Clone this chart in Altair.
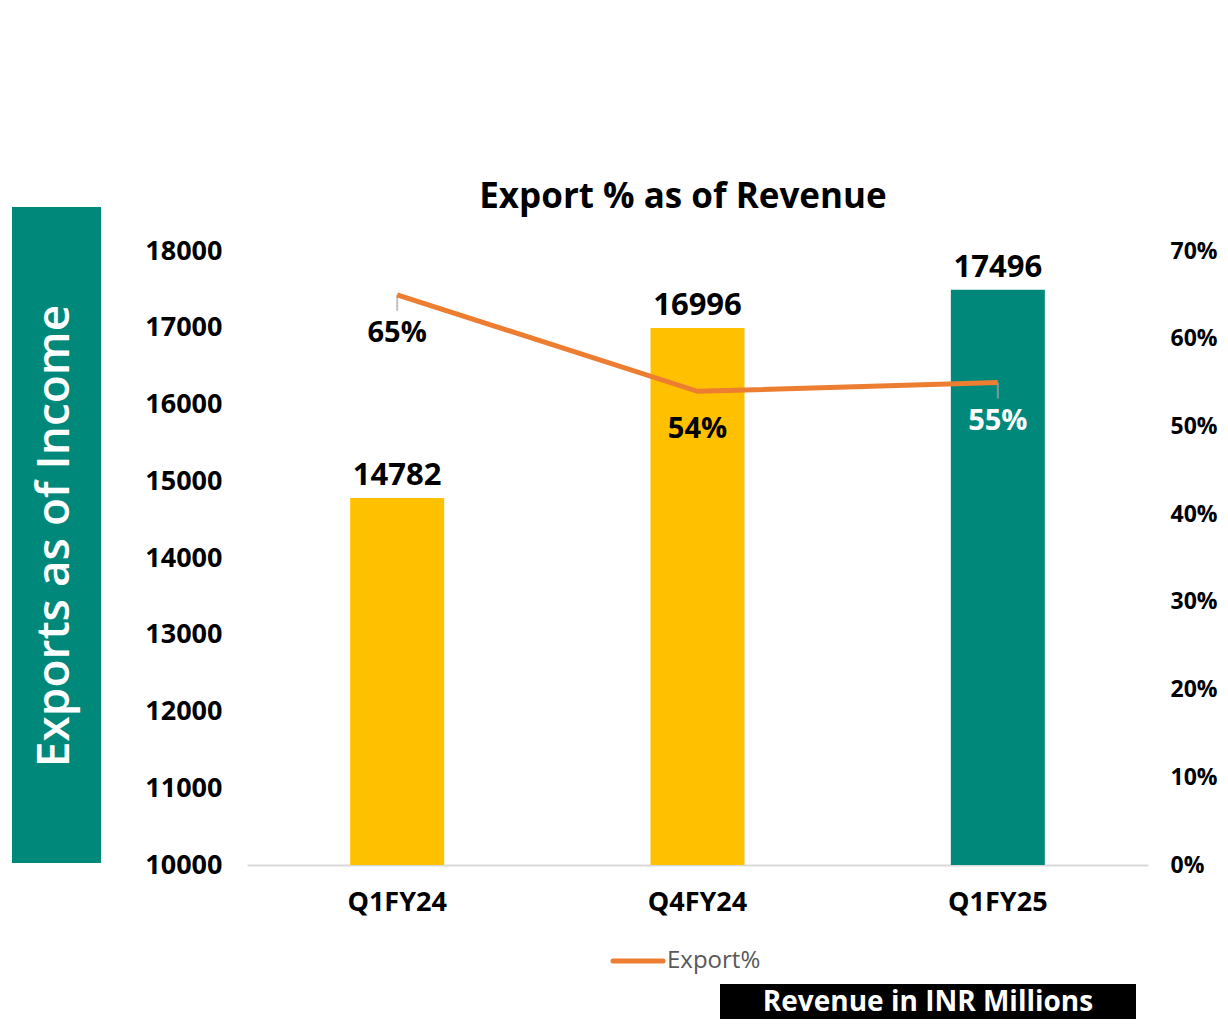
import altair as alt
import pandas as pd

quarters = ["Q1FY24", "Q4FY24", "Q1FY25"]
revenue = [14782, 16996, 17496]
export_pct = [0.65, 0.54, 0.55]
bar_colors = ["#FFC000", "#FFC000", "#00887A"]
pct_label_colors = ["#000000", "#000000", "#FFFFFF"]
left_ticks = [10000, 11000, 12000, 13000, 14000, 15000, 16000, 17000, 18000]
right_ticks = [0, 0.1, 0.2, 0.3, 0.4, 0.5, 0.6, 0.7]

df = pd.DataFrame({
    "quarter": quarters,
    "revenue": revenue,
    "pct": export_pct,
    "bar_color": bar_colors,
    "pct_color": pct_label_colors,
    "pct_label": [f"{round(p*100)}%" for p in export_pct],
})

FONT = "Open Sans"
W, H = 901, 614

x_enc = alt.X("quarter:N", sort=quarters,
              scale=alt.Scale(paddingInner=0, paddingOuter=0),
              axis=alt.Axis(title=None, labelAngle=0, labelFont=FONT, labelFontSize=27,
                            labelFontWeight="bold", labelColor="#000000", labelPadding=24,
                            ticks=False, domainColor="#D9D9D9", domainWidth=2))

y_left = alt.Y("revenue:Q",
               scale=alt.Scale(domain=[10000, 18000], nice=False, zero=False),
               axis=alt.Axis(title=None, values=left_ticks, format="d", grid=False, domain=False,
                             ticks=False, labelFont=FONT, labelFontSize=27, labelFontWeight="bold",
                             labelColor="#000000", labelPadding=25))

base = alt.Chart(df)

bars = base.mark_bar(size=94, clip=True).encode(
    x=x_enc, y=y_left,
    y2=alt.datum(10000),
    color=alt.Color("bar_color:N", scale=None),
)

bar_labels = base.mark_text(font=FONT, fontSize=31, fontWeight="bold", baseline="bottom",
                            dy=-6, color="#000000").encode(
    x=alt.X("quarter:N", sort=quarters), y=alt.Y("revenue:Q"),
    text=alt.Text("revenue:Q", format="d"),
)

left_layer = alt.layer(bars, bar_labels)

y_right = alt.Y("pct:Q",
                scale=alt.Scale(domain=[0, 0.7], nice=False),
                axis=alt.Axis(title=None, orient="right", values=right_ticks, format=".0%",
                              grid=False, domain=False, ticks=False, labelFont=FONT,
                              labelFontSize=23, labelFontWeight="bold", labelColor="#000000",
                              labelPadding=22))

line = base.mark_line(color="#ED7D31", strokeWidth=5).encode(
    x=alt.X("quarter:N", sort=quarters), y=y_right,
)

leader_lines = base.transform_filter(alt.datum.quarter != "Q4FY24").mark_tick(
    orient="vertical", color="#A6A6A6", thickness=2, size=16, yOffset=8
).encode(x=alt.X("quarter:N", sort=quarters), y=alt.Y("pct:Q"))

pct_labels = base.mark_text(font=FONT, fontSize=29, fontWeight="bold", baseline="middle",
                            dy=38).encode(
    x=alt.X("quarter:N", sort=quarters), y=alt.Y("pct:Q"),
    text="pct_label:N",
    color=alt.Color("pct_color:N", scale=None),
)

right_layer = alt.layer(leader_lines, line, pct_labels)

one = pd.DataFrame({"k": [0]})
deco = alt.Chart(one)

title = deco.mark_text(text="Export % as of Revenue", font=FONT, fontSize=35, fontWeight="bold",
                       color="#000000", align="center", baseline="middle").encode(
    x=alt.value(436), y=alt.value(-54))

side_box = deco.mark_rect(color="#00887A").encode(
    x=alt.value(-235), x2=alt.value(-146), y=alt.value(-44), y2=alt.value(612))
side_text = deco.mark_text(text="Exports as of Income", font=FONT, fontSize=46, fontWeight=600,
                           color="#FFFFFF", angle=270, align="center", baseline="middle").encode(
    x=alt.value(-192), y=alt.value(285))

legend_line = deco.mark_rule(color="#ED7D31", strokeWidth=5, strokeCap="round").encode(
    x=alt.value(366), x2=alt.value(416), y=alt.value(710))
legend_text = deco.mark_text(text="Export%", font=FONT, fontSize=24, color="#595959",
                             align="left", baseline="middle").encode(
    x=alt.value(420), y=alt.value(710))

black_box = deco.mark_rect(color="#000000").encode(
    x=alt.value(473), x2=alt.value(889), y=alt.value(733), y2=alt.value(776))
black_text = deco.mark_text(text="Revenue in INR Millions", font=FONT, fontSize=28,
                            fontWeight="bold", color="#FFFFFF", align="center",
                            baseline="middle").encode(
    x=alt.value(681), y=alt.value(752))

main = alt.layer(left_layer, right_layer).resolve_scale(y="independent")

chart = alt.layer(side_box, side_text, title, main, legend_line, legend_text, black_box,
                  black_text).resolve_scale(y="independent").properties(
    width=W, height=H,
    padding={"left": 239, "top": 243, "right": 72, "bottom": 154},
    autosize=alt.AutoSizeParams(type="none"),
    background="#FFFFFF",
).configure_view(stroke=None)

chart.save("out.html", embed_options={"renderer": "svg", "actions": False})
